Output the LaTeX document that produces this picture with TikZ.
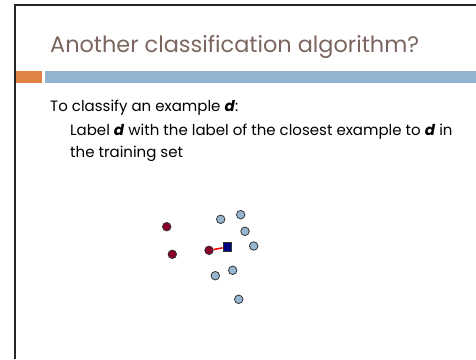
\documentclass[tikz,border=0pt]{standalone}
\usepackage{fontspec}
\setmainfont{Poppins}
\usetikzlibrary{positioning}

\definecolor{titlebrown}{RGB}{122,102,94}
\definecolor{barorange}{RGB}{224,130,70}
\definecolor{barblue}{RGB}{146,180,208}
\definecolor{ptred}{RGB}{139,0,40}
\definecolor{ptblue}{RGB}{150,182,210}
\definecolor{ptnavy}{RGB}{0,0,128}

\tikzset{
    redpt/.style={circle,draw=black!80,fill=ptred,line width=0.8pt,inner sep=0pt,minimum size=8.5pt},
    bluept/.style={circle,draw=black!80,fill=ptblue,line width=0.8pt,inner sep=0pt,minimum size=8.5pt},
    querypt/.style={rectangle,draw=black!80,fill=ptnavy,line width=0.8pt,inner sep=0pt,minimum size=8.5pt},
    bodytext/.style={anchor=base west,inner sep=0pt,font=\fontsize{15}{18}\selectfont}
}

\begin{document}
\begin{tikzpicture}[x=1pt,y=-1pt]
                \useasboundingbox (0,0) rectangle (476,359);
                % Slide frame
                \draw[black!85,line width=2pt] (15,359) -- (15,4.5) -- (476,4.5);

                % Title and bars
                \node[anchor=base west,inner sep=0pt,text=titlebrown,
                    font=\fontsize{22.4}{26}\selectfont] (title) at (50,52) {Another classification algorithm?};
                \fill[barorange] (16,71) rectangle (42,83);
                \fill[barblue] (45,71) rectangle (476,83);

                % Text
                \node[bodytext] (line1) at (50,111.5) {To classify an example \textbf{\textit{d}}:};
                \node[bodytext] (line2) at (70,135) {Label \textbf{\textit{d}} with the label of the closest example to \textbf{\textit{d}} in};
                \node[bodytext] (line3) at (70,157) {the training set};

                % Examples of the first class
                \node[redpt] (r1) at (166.7,226.7) {};
                \node[redpt] (r2) at (172.3,254.3) {};
                \node[redpt] (r3) at (209,250.3) {};

                % Examples of the second class
                \node[bluept] (b1) at (220.7,219.3) {};
                \node[bluept] (b2) at (240.7,214.7) {};
                \node[bluept] (b3) at (245,231.3) {};
                \node[bluept] (b4) at (253.7,246) {};
                \node[bluept] (b5) at (232.7,270.3) {};
                \node[bluept] (b6) at (215.3,275.7) {};
                \node[bluept] (b7) at (238.7,299.3) {};

                % Example d and its closest example
                \node[querypt] (d) at (227.3,247) {};
                \draw[red,line width=1.5pt] (r3) -- (d);
\end{tikzpicture}
\end{document}
